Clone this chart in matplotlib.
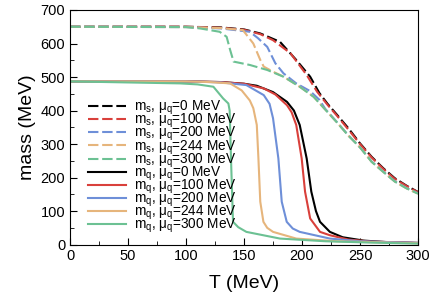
import matplotlib
matplotlib.use("Agg")
import matplotlib.pyplot as plt
from matplotlib.ticker import MultipleLocator

plt.rcParams['font.family'] = ['Liberation Sans', 'DejaVu Sans']
plt.rcParams['mathtext.fontset'] = 'custom'
plt.rcParams['mathtext.rm'] = 'Liberation Sans'
plt.rcParams['mathtext.it'] = 'Liberation Sans'

# strange quark mass m_s (dashed)
T_ms0 = [0, 100, 130, 150, 164, 181, 195, 207, 215, 222, 230, 240, 250, 260, 270, 280, 290, 300]
ms0 = [650, 650, 648, 642, 630, 605, 551, 501, 452, 420, 388, 347, 302, 262, 228, 198, 176, 157]
T_ms100 = [0, 100, 130, 150, 164, 175, 190, 204, 213, 222, 230, 240, 250, 260, 270, 280, 290, 300]
ms100 = [650, 650, 647, 641, 628, 610, 571, 506, 456, 417, 385, 343, 300, 260, 226, 196, 175, 156]
T_ms200 = [0, 100, 130, 155, 162, 170, 177, 184, 195, 207, 215, 220, 230, 240, 250, 260, 270, 280, 290, 300]
ms200 = [650, 649, 645, 635, 616, 590, 541, 511, 481, 458, 432, 405, 366, 326, 290, 248, 218, 189, 169, 153]
T_ms244 = [0, 100, 130, 149, 158, 164, 167, 175, 184, 198, 210, 220, 230, 240, 250, 260, 270, 280, 290, 300]
ms244 = [650, 649, 646, 640, 600, 551, 531, 516, 501, 471, 441, 403, 365, 325, 290, 247, 217, 188, 168, 152]
T_ms300 = [0, 100, 112, 129, 135, 138, 141, 155, 170, 184, 198, 210, 220, 230, 240, 250, 260, 270, 280, 290, 300]
ms300 = [650, 649, 645, 635, 620, 581, 546, 536, 521, 501, 471, 441, 403, 365, 325, 290, 247, 217, 188, 168, 152]

# light quark mass m_q (solid)
T_mq0 = [0, 100, 130, 150, 161, 175, 187, 193, 198, 204, 208, 212, 215.5, 224, 235, 253, 275, 300]
mq0 = [487, 487, 485, 480, 474, 455, 426, 400, 357, 257, 158, 100, 68, 38, 22, 12, 7, 5]
T_mq100 = [0, 100, 130, 150, 167, 177, 187, 191, 195, 199.7, 202.6, 207, 215.5, 224, 240, 260, 300]
mq100 = [487, 487, 485, 480, 466, 448, 416, 395, 357, 257, 158, 78, 38, 28, 15, 9, 5]
T_mq200 = [0, 100, 130, 152, 167, 172, 175, 179.6, 182.5, 186.8, 192, 198, 224, 250, 300]
mq200 = [487, 487, 484, 476, 446, 420, 377, 257, 128, 68, 48, 38, 18, 10, 5]
T_mq244 = [0, 100, 120, 138, 148, 155, 158, 161, 162.4, 164, 166.7, 170, 175, 195, 230, 300]
mq244 = [487, 487, 485, 481, 460, 430, 407, 357, 257, 128, 68, 50, 38, 18, 10, 4]
T_mq300 = [0, 95, 110, 123.6, 132, 136.5, 137.6, 139, 140.5, 145, 152, 181, 220, 260, 300]
mq300 = [487, 481, 478, 471, 436, 421, 400, 230, 68, 52, 38, 18, 10, 6, 3]

mu_labels = ["0", "100", "200", "244", "300"]
colors = ["black", "#d9403b", "#6e8fd8", "#e6b57c", "#6cc193"]

ms_data = [(T_ms0, ms0), (T_ms100, ms100), (T_ms200, ms200), (T_ms244, ms244), (T_ms300, ms300)]
mq_data = [(T_mq0, mq0), (T_mq100, mq100), (T_mq200, mq200), (T_mq244, mq244), (T_mq300, mq300)]

fig = plt.figure(figsize=(4.35, 2.94), dpi=100)
ax = fig.add_axes([0.161, 0.168, 0.800, 0.798])

for (t, m), c, mu in zip(ms_data, colors, mu_labels):
    ax.plot(t, m, color=c, lw=1.5, dashes=(5, 1.8), label=r"m$_s$, $\mu_q$=" + mu + " MeV")
for (t, m), c, mu in zip(mq_data, colors, mu_labels):
    ax.plot(t, m, color=c, lw=1.5, label=r"m$_q$, $\mu_q$=" + mu + " MeV")

ax.set_xlim(0, 300)
ax.set_ylim(0, 700)
ax.xaxis.set_major_locator(MultipleLocator(50))
ax.xaxis.set_minor_locator(MultipleLocator(25))
ax.yaxis.set_major_locator(MultipleLocator(100))
ax.yaxis.set_minor_locator(MultipleLocator(50))
ax.tick_params(which="both", direction="in", top=False, right=False, labelsize=10.5)
ax.tick_params(which="major", length=5)
ax.tick_params(which="minor", length=3)
ax.set_xlabel("T (MeV)", fontsize=14, labelpad=8)
ax.set_ylabel("mass (MeV)", fontsize=14, labelpad=3)

ax.legend(loc="upper left", bbox_to_anchor=(0.033, 0.65), frameon=False, fontsize=9.8,
          handlelength=2.8, labelspacing=-0.38, borderpad=0.0, handletextpad=0.55)

fig.savefig("out.png", dpi=100)
